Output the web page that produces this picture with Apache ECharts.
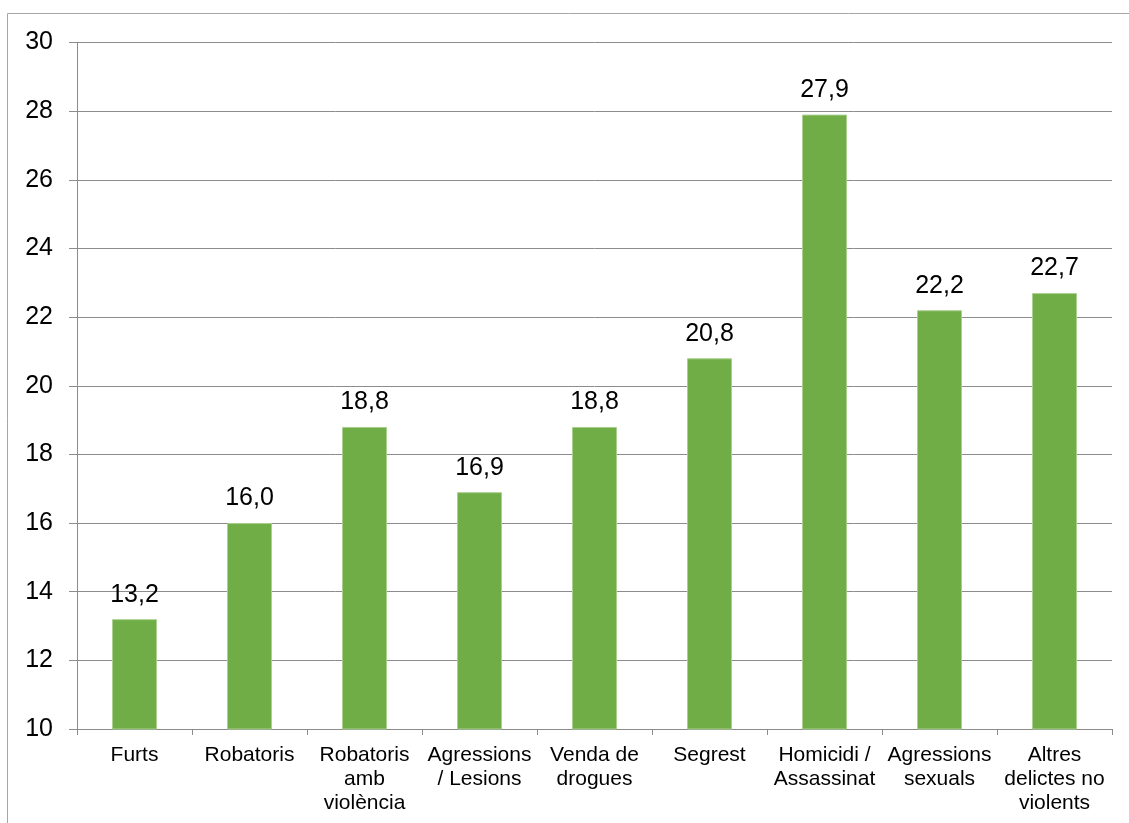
<!DOCTYPE html>
<html>
<head>
<meta charset="utf-8">
<script src="https://cdn.jsdelivr.net/npm/echarts@6/dist/echarts.min.js"></script>
<style>
html,body{margin:0;padding:0;background:#fff;}
#chart{width:1129px;height:823px;}
</style>
</head>
<body>
<div id="chart"></div>
<script>
const categories = ["Furts", "Robatoris", "Robatoris amb violència", "Agressions / Lesions", "Venda de drogues", "Segrest", "Homicidi / Assassinat", "Agressions sexuals", "Altres delictes no violents"];
const categoryLabels = ["Furts", "Robatoris", "Robatoris\namb\nviolència", "Agressions\n/ Lesions", "Venda de\ndrogues", "Segrest", "Homicidi /\nAssassinat", "Agressions\nsexuals", "Altres\ndelictes no\nviolents"];
const values = [13.2, 16.0, 18.8, 16.9, 18.8, 20.8, 27.9, 22.2, 22.7];
const yMin = 10, yMax = 30, yStep = 2;

const chart = echarts.init(document.getElementById('chart'), null, {renderer: 'canvas'});
const font = '"Liberation Sans", Arial, sans-serif';
chart.setOption({
  animation: false,
  backgroundColor: '#ffffff',
  grid: {left: 77, right: 17, top: 42.5, bottom: 94, containLabel: false},
  graphic: [
    {type: 'line', shape: {x1: 7.5, y1: 13.5, x2: 1129, y2: 13.5}, style: {stroke: '#a6a6a6', lineWidth: 1}},
    {type: 'line', shape: {x1: 7.5, y1: 13.5, x2: 7.5, y2: 823}, style: {stroke: '#a6a6a6', lineWidth: 1}}
  ],
  xAxis: {
    type: 'category',
    data: categories,
    boundaryGap: true,
    axisLine: {show: true, lineStyle: {color: '#8c8c8c', width: 1}},
    axisTick: {show: true, length: 6, alignWithLabel: false, lineStyle: {color: '#8c8c8c'}},
    axisLabel: {
      interval: 0,
      margin: 14,
      color: '#000',
      fontFamily: font,
      fontSize: 21,
      lineHeight: 24,
      formatter: (v, i) => categoryLabels[i]
    }
  },
  yAxis: {
    type: 'value',
    min: yMin, max: yMax, interval: yStep,
    axisLine: {show: true, lineStyle: {color: '#8c8c8c', width: 1}},
    axisTick: {show: true, length: 8, lineStyle: {color: '#8c8c8c'}},
    splitLine: {show: true, lineStyle: {color: '#8c8c8c', width: 1}},
    axisLabel: {margin: 24, color: '#000', fontFamily: font, fontSize: 25}
  },
  series: [{
    type: 'bar',
    data: values,
    barWidth: 45,
    itemStyle: {color: '#70AD47', borderColor: '#A9D08E', borderWidth: 1},
    label: {
      show: true,
      position: 'top',
      distance: 12,
      color: '#000',
      fontFamily: font,
      fontSize: 25,
      formatter: p => p.value.toFixed(1).replace('.', ',')
    }
  }]
});
</script>
</body>
</html>
